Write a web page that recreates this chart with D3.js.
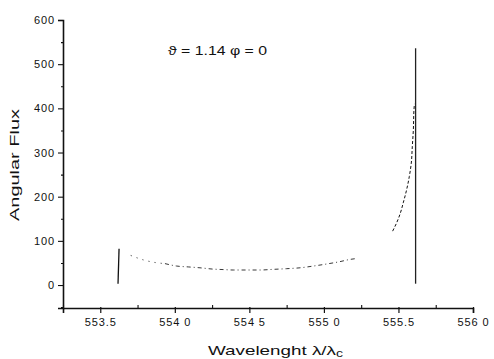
<!DOCTYPE html>
<html>
<head>
<meta charset="utf-8">
<script src="https://cdn.jsdelivr.net/npm/d3@7"></script>
<style>
  html, body { margin: 0; padding: 0; background: #fff; }
  svg text { font-family: "Liberation Sans", Arial, sans-serif; fill: #111; }
</style>
</head>
<body>
<svg id="chart" width="494" height="359"></svg>
<script>
// ---- data ----
const xTickValues = [553.5, 554.0, 554.5, 555.0, 555.5, 556.0];
const xTickLabels = ["553.5", "554 0", "554 5", "555 0", "555.5", "556 0"];
const yTickValues = [0, 100, 200, 300, 400, 500, 600];
const yTickLabels = ["0", "100", "200", "300", "400", "500", "600"];

// narrow line at the left edge of the band
const spikeLeftWl   = [553.619, 553.626];
const spikeLeftFlux = [3, 82];

// broad shallow trough: sparse-dotted start, then dashed
const troughStartWl   = [553.704, 553.788, 553.867, 553.934];
const troughStartFlux = [67, 57, 51, 48.5];
const troughWl   = [553.934, 554.012, 554.090, 554.169, 554.258, 554.325, 554.392, 554.482, 554.571, 554.660, 554.750, 554.840, 554.930, 555.018, 555.108, 555.175, 555.220];
const troughFlux = [48.5, 43, 41, 39, 36, 35, 34, 34, 34, 35.5, 37, 39, 43, 47.6, 53, 58, 60];

// steep rise toward the right edge (dashed)
const riseWl   = [555.461, 555.488, 555.510, 555.532, 555.555, 555.573, 555.586, 555.593, 555.600, 555.604, 555.607];
const riseFlux = [122, 141, 160, 186, 216, 246, 276, 314, 352, 397, 410];

// tall line at the right edge of the band
const spikeRightWl   = [555.615, 555.615];
const spikeRightFlux = [536, 3];

// ---- chart ----
const svg = d3.select("#chart");
const x = d3.scaleLinear().domain([553.25, 556.0]).range([63, 473]);
const y = d3.scaleLinear().domain([-52, 600]).range([308, 20]);

const g = svg.append("g");

// x axis (major ticks down, minor ticks up)
const xAxis = g.append("g").attr("transform", "translate(0,308)");
xAxis.call(d3.axisBottom(x).tickValues(xTickValues).tickSize(5).tickPadding(5)
  .tickFormat((d, i) => xTickLabels[i]));
xAxis.select(".domain").attr("stroke", "#111").attr("stroke-width", 1.6);
xAxis.selectAll(".tick line").attr("stroke", "#111").attr("stroke-width", 1.2).attr("y1", -1);
xAxis.selectAll(".tick text").attr("font-size", 11).attr("letter-spacing", "0.9px").attr("fill", "#111");
const xMinor = g.append("g").attr("transform", "translate(0,308)");
xMinor.call(d3.axisTop(x).tickValues([553.25, 553.75, 554.25, 554.75, 555.25, 555.75]).tickSize(3).tickFormat(""));
xMinor.select(".domain").remove();
xMinor.selectAll(".tick line").attr("stroke", "#111").attr("stroke-width", 1.1);

// y axis
const yAxis = g.append("g").attr("transform", "translate(63,0)");
yAxis.call(d3.axisLeft(y).tickValues(yTickValues).tickSize(5).tickPadding(3)
  .tickFormat((d, i) => yTickLabels[i]));
yAxis.select(".domain").attr("stroke", "#111").attr("stroke-width", 1.6);
yAxis.selectAll(".tick line").attr("stroke", "#111").attr("stroke-width", 1.1);
yAxis.selectAll(".tick text").attr("font-size", 11).attr("letter-spacing", "0.9px").attr("fill", "#111");
const yMinor = g.append("g").attr("transform", "translate(63,0)");
yMinor.call(d3.axisLeft(y).tickValues([-50, 50, 150, 250, 350, 450, 550]).tickSize(2).tickFormat(""));
yMinor.select(".domain").remove();
yMinor.selectAll(".tick line").attr("stroke", "#111").attr("stroke-width", 1.1);

// series
const zipP = (a, b) => a.map((v, i) => [v, b[i]]);
const straight = d3.line().x(d => x(d[0])).y(d => y(d[1]));
const smoothX = d3.line().x(d => x(d[0])).y(d => y(d[1])).curve(d3.curveMonotoneX);
const smoothY = d3.line().x(d => x(d[0])).y(d => y(d[1])).curve(d3.curveMonotoneY);

g.append("path").datum(zipP(spikeLeftWl, spikeLeftFlux))
  .attr("d", straight).attr("fill", "none").attr("stroke", "#111").attr("stroke-width", 1.3);
g.append("path").datum(zipP(troughStartWl, troughStartFlux))
  .attr("d", smoothX).attr("fill", "none").attr("stroke", "#333")
  .attr("stroke-width", 0.9).attr("stroke-dasharray", "1.2,5");
g.append("path").datum(zipP(troughWl, troughFlux))
  .attr("d", smoothX).attr("fill", "none").attr("stroke", "#222")
  .attr("stroke-width", 0.9).attr("stroke-dasharray", "4,3,1,3");
g.append("path").datum(zipP(riseWl, riseFlux))
  .attr("d", smoothY).attr("fill", "none").attr("stroke", "#111")
  .attr("stroke-width", 1).attr("stroke-dasharray", "3,2");
g.append("path").datum(zipP(spikeRightWl, spikeRightFlux))
  .attr("d", straight).attr("fill", "none").attr("stroke", "#222").attr("stroke-width", 1.3);

// annotation
svg.append("text").attr("x", 168).attr("y", 55).attr("font-size", 13)
  .attr("textLength", 99).attr("lengthAdjust", "spacingAndGlyphs")
  .text("ϑ = 1.14 φ = 0");

// axis titles
svg.append("text").attr("transform", "translate(19,165) rotate(-90)")
  .attr("text-anchor", "middle").attr("font-size", 13)
  .attr("textLength", 112).attr("lengthAdjust", "spacingAndGlyphs")
  .text("Angular Flux");

const xt = svg.append("text").attr("x", 208).attr("y", 355).attr("font-size", 13.5)
  .attr("textLength", 135).attr("lengthAdjust", "spacingAndGlyphs");
xt.append("tspan").text("Wavelenght λ/λ");
xt.append("tspan").attr("font-size", 10).attr("dy", 2).text("c");
</script>
</body>
</html>
